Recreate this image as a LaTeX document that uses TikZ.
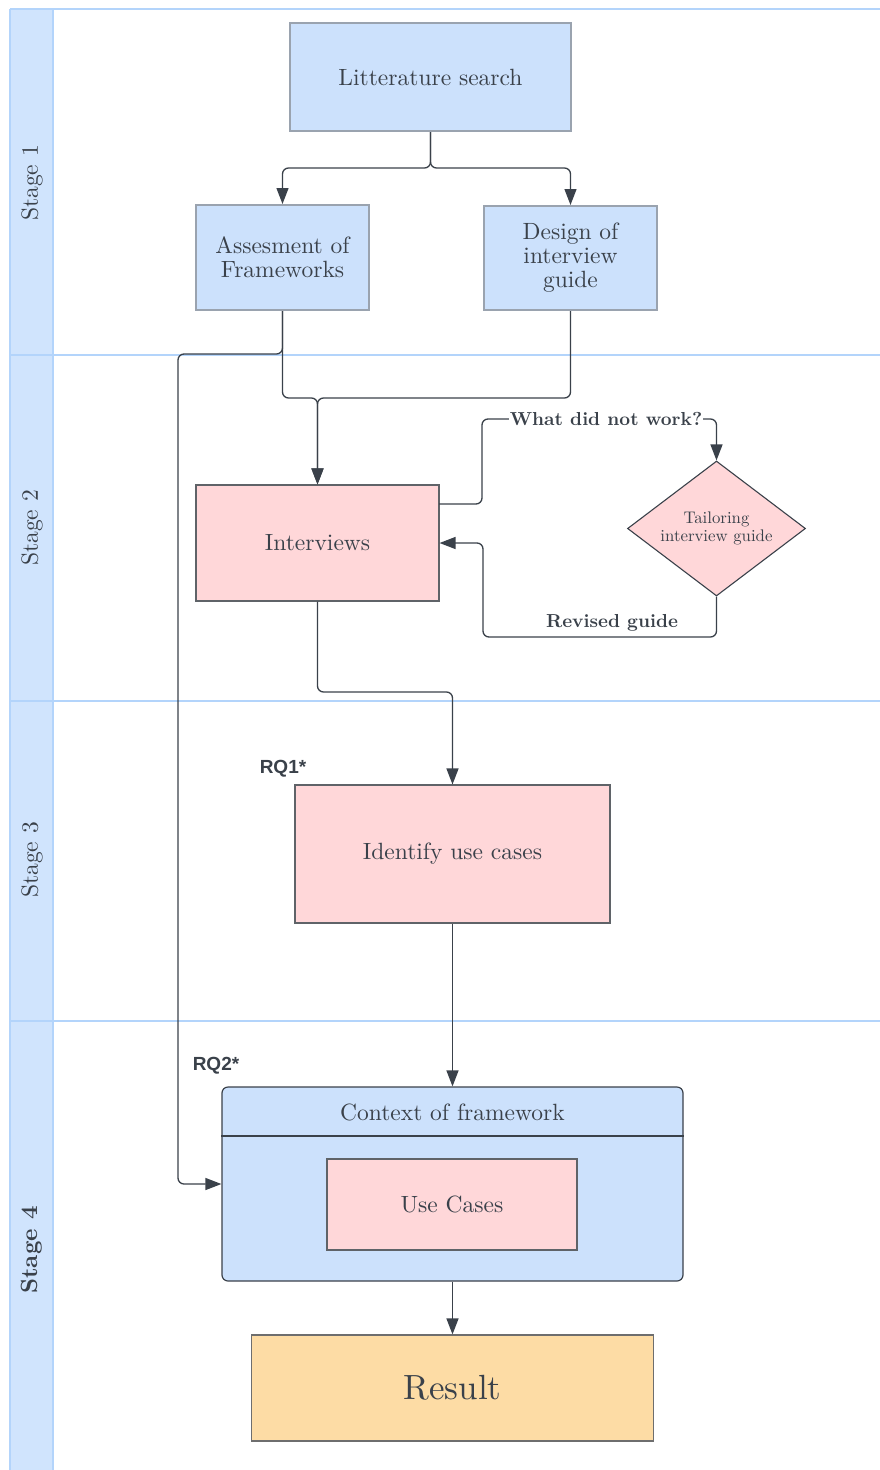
\documentclass[tikz,border=0pt]{standalone}
\usepackage{fontspec}
\setmainfont{lmroman10-regular.otf}[BoldFont=lmroman10-bold.otf]
\newfontfamily\rqfont{Liberation Sans}
\usetikzlibrary{arrows.meta,shapes.geometric}
\definecolor{txt}{HTML}{3A414A}
\definecolor{lanec}{HTML}{B3D4FB}
\definecolor{hdr}{HTML}{D0E4FD}
\definecolor{bluefill}{HTML}{CCE1FC}
\definecolor{blueedge}{HTML}{9AA3AF}
\definecolor{pinkfill}{HTML}{FFD7D9}
\definecolor{pinkedge}{HTML}{5F6368}
\definecolor{orfill}{HTML}{FDDCA5}
\definecolor{oredge}{HTML}{6E6E6E}
\definecolor{wire}{HTML}{3A414A}
\newcommand\mainfs{\fontsize{23.5}{24}\selectfont}
\newcommand\smallfs{\fontsize{16.8}{18}\selectfont}
\newcommand\labfs{\fontsize{18.8}{20}\selectfont\bfseries}
\newcommand\resfs{\fontsize{35}{38}\selectfont}
\newcommand\rqfs{\fontsize{19}{20}\selectfont\rqfont\bfseries}
\begin{document}
\begin{tikzpicture}[x=1pt,y=-1pt,
  every node/.style={text=txt},
  laneline/.style={draw=lanec, line width=2pt},
  bluebox/.style={draw=blueedge, line width=2pt, fill=bluefill, inner sep=0pt, align=center, font=\mainfs},
  pinkbox/.style={draw=pinkedge, line width=1.1pt, fill=pinkfill, inner sep=0pt, align=center, font=\mainfs},
  resbox/.style={draw=oredge, line width=1.2pt, fill=orfill, inner sep=0pt, align=center, font=\resfs},
  ctxbox/.style={draw=wire, line width=1.2pt, fill=bluefill, inner sep=0pt, rounded corners=6pt},
  dia/.style={diamond, aspect=1.32, draw=wire, line width=1.1pt, fill=pinkfill, inner sep=0pt, align=center, font=\smallfs},
  conn/.style={draw=wire, line width=1.3pt, rounded corners=6pt, -{Triangle[length=16pt,width=12pt]}},
  stagelab/.style={rotate=90, font=\mainfs},
  flowlab/.style={font=\labfs, inner sep=1pt},
  rqlab/.style={font=\rqfs}
]
\useasboundingbox (0,0) rectangle (880,1470);
% swimlanes
\fill[hdr] (10,9) rectangle (53,1470);
\draw[laneline] (10,9) -- (880,9);
\draw[laneline] (10,355) -- (880,355);
\draw[laneline] (10,701) -- (880,701);
\draw[laneline] (10,1021) -- (880,1021);
\draw[laneline] (10,9) -- (10,1470);
\draw[laneline] (53,9) -- (53,1470);
\node[stagelab] (s1) at (32,183) {Stage 1};
\node[stagelab] (s2) at (32,528) {Stage 2};
\node[stagelab] (s3) at (32,860) {Stage 3};
\node[stagelab, font=\mainfs\bfseries] (s4) at (32,1250) {Stage 4};

% nodes
\node[bluebox, minimum width=281pt, minimum height=108pt] (lit) at (430.5,77) {Litterature search};
\node[bluebox, minimum width=173pt, minimum height=105pt] (asm) at (282.5,257.5) {Assesment of\\Frameworks};
\node[bluebox, minimum width=173pt, minimum height=104pt] (des) at (570.5,258) {Design of\\interview\\guide};
\node[pinkbox, minimum width=243pt, minimum height=116pt] (int) at (317.5,543) {Interviews};
\node[dia, minimum width=178pt, minimum height=135pt] (tai) at (716.5,528.5) {Tailoring\\interview guide};
\node[pinkbox, minimum width=315pt, minimum height=138pt] (idf) at (452.5,854) {Identify use cases};
\node[ctxbox, minimum width=461pt, minimum height=194pt] (ctx) at (452.5,1184) {};
\draw[draw=wire, line width=1.2pt] (ctx.west |- 0,1136) -- (ctx.east |- 0,1136);
\node[font=\mainfs] (ctxt) at (452.5,1112) {Context of framework};
\node[pinkbox, minimum width=250pt, minimum height=91pt] (uc) at (452,1204.5) {Use Cases};
\node[resbox, minimum width=402pt, minimum height=106pt] (res) at (452.5,1388) {Result};
\node[rqlab] (rq1) at (283,769) {RQ1*};
\node[rqlab] (rq2) at (216,1066) {RQ2*};

% connectors
\coordinate (sp) at (430.5,168);
\draw[conn] (lit.south) -- (sp) -| (asm.north);
\draw[conn] (lit.south) -- (sp) -| (des.north);
\coordinate (j1) at (317.5,398);
\draw[conn] (asm.south) |- (j1) -- (int.north);
\draw[conn] (des.south) |- (j1) -- (int.north);
\coordinate (k1) at (178,354);
\draw[conn] (asm.south) |- (k1) |- (ctx.west);
\coordinate (a0) at (439,504);
\coordinate (a1) at (482,419);
\draw[conn] (a0) -| (a1) -| (tai.north);
\node[flowlab, fill=white] (wdnw) at (606,419) {What did not work?};
\coordinate (b1) at (483,637);
\draw[conn] (tai.south) |- (b1) |- (int.east);
\node[flowlab] (rg) at (612,623) {Revised guide};
\coordinate (c1) at (317.5,692);
\coordinate (c2) at (452.5,692);
\draw[conn] (int.south) -- (c1) -- (c2) -- (idf.north);
\draw[conn] (idf.south) -- (ctx.north);
\draw[conn] (ctx.south) -- (res.north);
\end{tikzpicture}
\end{document}
